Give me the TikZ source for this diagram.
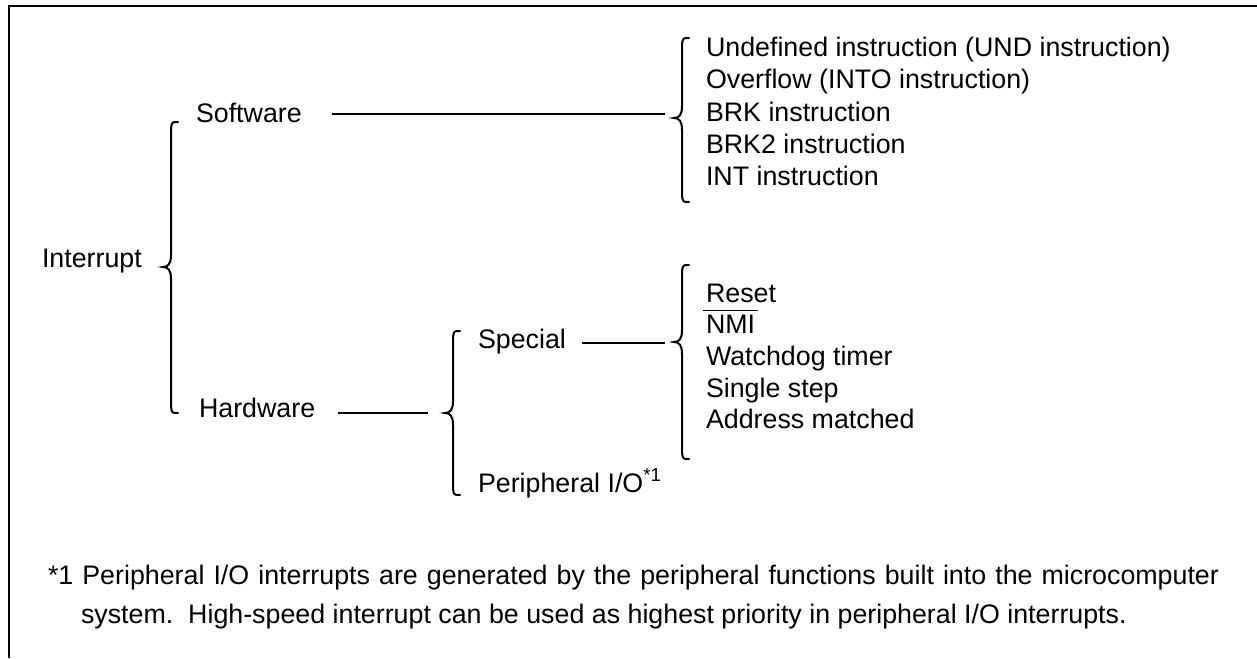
\documentclass[tikz,border=0pt]{standalone}
\usepackage{fontspec}
\setmainfont{Liberation Sans}
\usetikzlibrary{calc}
\newcommand\mybrace[4]{% x, top, bottom, tip
  \draw[bracestyle] ({#1+7},#2) .. controls ({#1+1},#2) .. (#1,{#2+6})
    -- (#1,{#4-12}) .. controls (#1,{#4-3}) and ({#1-3},#4) .. ({#1-8},#4)
    .. controls ({#1-3},#4) and (#1,{#4+3}) .. (#1,{#4+12})
    -- (#1,{#3-6}) .. controls ({#1+1},#3) .. ({#1+7},#3);}
\begin{document}
\begin{tikzpicture}[x=0.5pt,y=-0.5pt,line width=1pt,
  txt/.style={anchor=base west,inner sep=0pt,font=\fontsize{13.4}{16}\selectfont},
  bracestyle/.style={line width=1pt,line cap=round},
  conn/.style={line width=1pt}]
\fill[white] (0,0) rectangle (1257,658);
\useasboundingbox (0,0) rectangle (1257,658);
% frame
\draw[line width=1pt] (1257,6) -- (8.5,6) -- (8.5,658);
% nodes
\node[txt] (intr) at (41,267) {Interrupt};
\node[txt] (sw) at (195,122) {Software};
\node[txt] (hw) at (198,417) {Hardware};
\node[txt] (sp) at (477,348) {Special};
\node[txt] (pio) at (477,492) {Peripheral I/O\textsuperscript{*1}};
\node[txt] (s1) at (705,57) {Undefined instruction (UND instruction)};
\node[txt] (s2) at (705,89) {Overflow (INTO instruction)};
\node[txt] (s3) at (705,121) {BRK instruction};
\node[txt] (s4) at (705,153) {BRK2 instruction};
\node[txt] (s5) at (705,185) {INT instruction};
\node[txt] (h1) at (705,302) {Reset};
\node[txt] (nmi) at (705,333) {NMI};
\node[txt] (h3) at (705,365) {Watchdog timer};
\node[txt] (h4) at (705,397) {Single step};
\node[txt] (h5) at (705,428) {Address matched};
\node[txt] (fn1) at (47,584) {\hbox to 585.5pt{*1 Peripheral I/O interrupts are generated by the peripheral functions built into the microcomputer}};
\node[txt] (fn2) at (80,623) {system.\ \ High-speed interrupt can be used as highest priority in peripheral I/O interrupts.};
% NMI overline
\draw[line width=0.5pt] ($(nmi.north west)+(-2,-3)$) -- ($(nmi.north east)+(2,-3)$);
% braces
\mybrace{171}{122}{413}{267}
\mybrace{682}{38}{202}{118}
\mybrace{453}{331}{495}{413}
\mybrace{682}{265}{459}{342}
\coordinate (swtip) at (674,118);
\coordinate (hwtip) at (445,413);
\coordinate (sptip) at (674,342);
% connectors
\draw[conn] ($(sw.east |- 0,114)+(29,0)$) -- ($(swtip |- 0,114)+(-9,0)$);
\draw[conn] ($(hw.east |- hwtip)+(22,0)$) -- ($(hwtip)+(-17,0)$);
\draw[conn] ($(sp.mid east)+(15,0)$) -- ($(sptip |- sp.mid east)+(-9,0)$);
\end{tikzpicture}
\end{document}
